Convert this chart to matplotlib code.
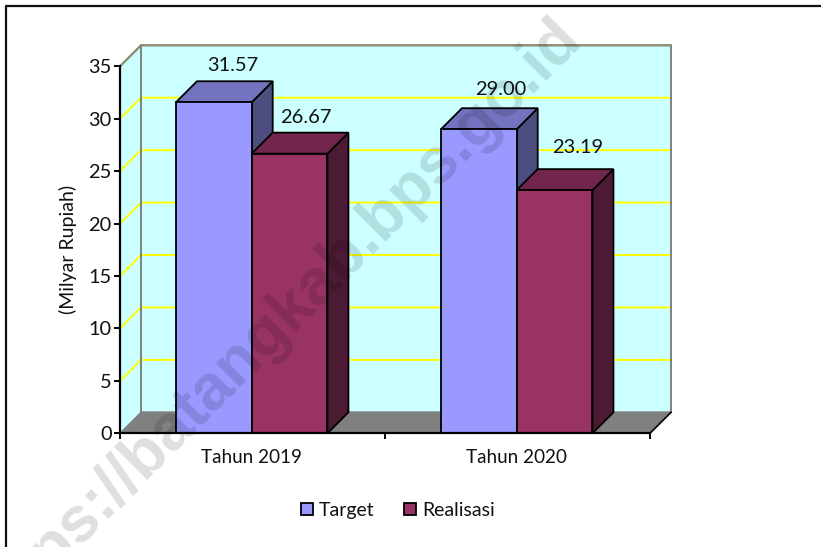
import matplotlib
matplotlib.use("Agg")
import matplotlib.pyplot as plt
from matplotlib.lines import Line2D

plt.rcParams['font.family'] = ['Lato', 'DejaVu Sans']

categories = ["Tahun 2019", "Tahun 2020"]
target = [31.57, 29.00]
realisasi = [26.67, 23.19]
yticks = [0, 5, 10, 15, 20, 25, 30, 35]
y_label = "(Milyar Rupiah)"

W, H = 821, 547
fig = plt.figure(figsize=(W / 100, H / 100), dpi=100, facecolor="white")
ax = fig.add_axes([120 / W, (H - 433.3) / H, 530 / W, 367 / H])
ax.set_xlim(0, len(categories))
ax.set_ylim(0, 35)
ax.patch.set_visible(False)

# fake 3d depth, about 21 px each way, in data units
dx = 21 / 265
dy = 21 / (367 / 35)
bar_w = 0.2858
group_c = 0.497

# walls and floor
n = len(categories)
ax.fill([dx, n + dx, n + dx, dx], [dy, dy, 35 + dy, 35 + dy], fc="#CCFFFF", ec="none", clip_on=False, zorder=1)
ax.fill([0, dx, dx, 0], [0, dy, 35 + dy, 35], fc="#CCFFFF", ec="none", clip_on=False, zorder=1)
ax.fill([0, n, n + dx, dx], [0, 0, dy, dy], fc="#808080", ec="none", clip_on=False, zorder=1)
for v in yticks[1:-1]:
    ax.plot([0, dx, n + dx], [v, v + dy, v + dy], color="#FFFF00", lw=1.4, clip_on=False, zorder=2, solid_capstyle="butt")
ax.plot([0, dx, n + dx, n + dx, dx, dx], [35, 35 + dy, 35 + dy, dy, dy, 35 + dy], color="#808080", lw=1.4, clip_on=False, zorder=2)
ax.plot([0, dx, n + dx], [35, 35 + dy, 35 + dy], color="#8E8E6E", lw=1.4, clip_on=False, zorder=2)
ax.plot([0, dx], [0, dy], color="#808080", lw=1, clip_on=False, zorder=2)
ax.plot([n, n + dx], [0, dy], color="black", lw=1.2, clip_on=False, zorder=2)

series = [
    ("Target", target, -1, "#9999FF", "#7373BF", "#4D4D80"),
    ("Realisasi", realisasi, 0, "#993366", "#73264D", "#4D1A33"),
]
nudges = {"Target": [(19, 7), (22, 10)], "Realisasi": [(16, 7), (23, 13)]}

handles = []
for name, vals, off, c_front, c_top, c_side in series:
    for i, v in enumerate(vals):
        x0 = i + group_c + off * bar_w
        x1 = x0 + bar_w
        z = 3 + i * 2 + (off + 1)
        ax.fill([x1, x1 + dx, x1 + dx, x1], [0, dy, v + dy, v], fc=c_side, ec="black", lw=1.3, zorder=z, clip_on=False)
        ax.fill([x0, x1, x1 + dx, x0 + dx], [v, v, v + dy, v + dy], fc=c_top, ec="black", lw=1.3, zorder=z, clip_on=False)
        b = ax.bar(x0, v, width=bar_w, align="edge", color=c_front, edgecolor="black", lw=1.3, zorder=z + 0.5)
        nx, ny = nudges[name][i]
        ax.annotate(f"{v:.2f}", (x0 + bar_w / 2, v + dy), xytext=(nx * 0.72, ny * 0.72), textcoords="offset points",
                    ha="center", va="bottom", fontsize=14.4, color="#111111", zorder=20, annotation_clip=False)
    handles.append(b[0])

# axes
for s in ["top", "right"]:
    ax.spines[s].set_visible(False)
for s in ["left", "bottom"]:
    ax.spines[s].set_linewidth(1.6)
    ax.spines[s].set_zorder(15)
ax.set_yticks(yticks)
ax.set_yticklabels([str(v) for v in yticks], fontsize=14.4, color="#111111")
ax.tick_params(axis="y", length=4, width=1.4, pad=2)
ax.set_xticks(range(n + 1))
ax.set_xticklabels([])
ax.tick_params(axis="x", length=4, width=1.4)
ax.set_xticks([i + group_c for i in range(n)], labels=categories, minor=True)
ax.tick_params(axis="x", which="minor", length=0, pad=11, labelsize=13.6, labelcolor="#111111")
ax.set_ylabel(y_label, fontsize=14, color="#111111", labelpad=8)

leg = fig.legend(handles, [s[0] for s in series], loc="center", bbox_to_anchor=(398 / W, (H - 510.5) / H), ncol=2,
                 frameon=False, fontsize=14, handlelength=0.62, handleheight=0.62, handletextpad=0.3, columnspacing=1.5)
for t in leg.get_texts():
    t.set_color("#111111")

# outer frame, only top and left are in the crop
fig.add_artist(Line2D([5.5 / W, 5.5 / W, 1], [0, (H - 6) / H, (H - 6) / H], color="#111111", lw=1.6))

fig.text(276 / W, (H - 323) / H, "https://batangkab.bps.go.id", rotation=45, rotation_mode="anchor",
         ha="center", va="center", fontsize=46, fontweight="bold", family="Liberation Sans", color="black", alpha=0.13, zorder=30)

fig.savefig("out.png", dpi=100)
